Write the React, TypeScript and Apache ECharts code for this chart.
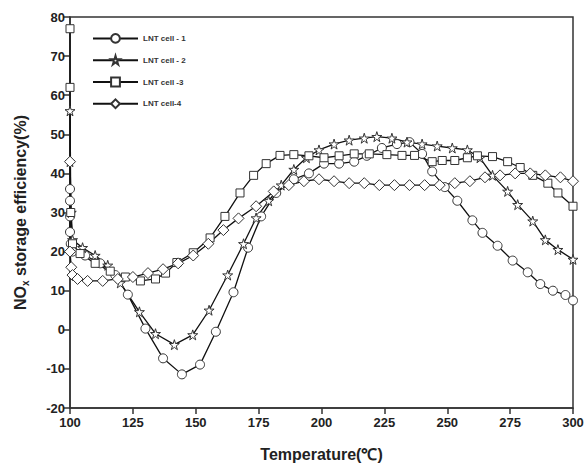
import React, { useEffect, useRef } from "react";
import * as echarts from "echarts";

const seriesNames = ["LNT cell - 1", "LNT cell - 2", "LNT cell -3", "LNT cell-4"];

const cell1T = [100, 100, 100, 100, 100.3, 101, 106, 112, 118, 123, 130, 137, 144.5, 151.7, 158, 165, 170.8, 176, 182, 189, 195, 201, 207, 213, 218, 224, 230, 235, 240, 244, 249, 254, 260, 264, 270, 276, 282, 287, 292, 297, 300];
const cell1V = [36, 33, 29, 25, 22, 20, 19, 17, 14, 9, 0.3, -7.3, -11.4, -8.9, -0.5, 9.6, 21, 29, 35, 38.5, 40, 42.5, 42.5, 43, 44.5, 46.5, 47.5, 48, 45, 40.5, 36.5, 33, 28, 24.8, 21.5, 17.7, 14.7, 11.7, 10, 8.9, 7.5];

const cell2T = [100, 100, 100.5, 101, 105, 110, 115, 120, 127.6, 134, 141.5, 148.8, 155.3, 162.7, 169, 174, 179, 184, 189, 194, 199, 205, 211, 217, 222, 228, 234, 240, 246, 252, 258, 263, 268, 274, 278, 284, 289, 294, 300];
const cell2V = [56, 43, 30, 23, 21, 19, 16.5, 12, 4.6, -1, -3.8, -1.3, 5, 14, 22, 28.6, 33, 37, 41, 44, 46, 47.5, 48.5, 49, 49.4, 49, 48, 47.5, 47, 46.5, 46, 44, 39.5, 35.4, 32, 27.8, 23, 20.5, 18];

const cell3T = [100, 100, 100.3, 101, 104, 110, 116, 122, 128, 134, 138, 142.5, 149, 155.7, 161.6, 167.6, 173, 178, 183.5, 189, 195, 201, 207, 213, 219, 226, 232, 237, 244, 248, 253, 258, 262, 268, 274, 279, 284, 290, 294, 300];
const cell3V = [77, 62, 30, 22, 19.5, 17, 15, 13.5, 12.5, 13, 14.5, 17.2, 19.7, 23.5, 29, 35, 39.5, 42.5, 44.6, 44.8, 44.5, 44, 44.5, 45, 45, 44.8, 44.6, 44.6, 43, 43.3, 43.3, 44, 44.5, 44.3, 43, 41.5, 39.5, 37.5, 35, 31.6];

const cell4T = [100, 100, 100.5, 101, 103, 107, 113, 119, 125, 131, 137, 143, 149, 155, 161, 167, 174, 181, 187, 193, 199, 205, 211, 217, 223, 229, 235, 241, 247, 253, 259, 265, 271, 277, 283, 289, 295, 300];
const cell4V = [43, 20, 16, 14, 13, 12.5, 12.5, 13, 13.5, 14.5, 15.5, 17, 19, 22, 25.5, 28.5, 31.6, 35.4, 37, 38, 38.5, 38, 37.5, 37.5, 37, 37, 37, 37, 37, 37.5, 38, 39, 39.5, 40, 40, 39.5, 39, 38];

const STAR = "path://M50,0 L61,35 L98,35 L68,57 L79,91 L50,70 L21,91 L32,57 L2,35 L39,35 Z";
const symbols = ["circle", STAR, "rect", "diamond"];
const symbolSizes = [9, 10, 8, 11];

const FONT = 'Arial, "Liberation Sans", sans-serif';

function zip(t: number[], v: number[]) {
  return t.map((x, i) => [x, v[i]]);
}

export default function App() {
  const ref = useRef<HTMLDivElement>(null);
  useEffect(() => {
    document.body.style.margin = "0";
    const chart = echarts.init(ref.current!, null, { renderer: "svg" });
    const data = [zip(cell1T, cell1V), zip(cell2T, cell2V), zip(cell3T, cell3V), zip(cell4T, cell4V)];
    chart.setOption({
      animation: false,
      backgroundColor: "#fff",
      grid: {
        left: 70, right: 15, top: 17, bottom: 55,
        show: true, borderColor: "#333", borderWidth: 1.5, backgroundColor: "transparent",
      },
      legend: {
        orient: "vertical",
        left: 87,
        top: 28,
        itemWidth: 45,
        itemHeight: 11,
        itemGap: 11,
        textStyle: { fontFamily: FONT, fontSize: 8, fontWeight: "bold", color: "#333" },
        data: seriesNames,
      },
      xAxis: {
        type: "value",
        min: 100, max: 300, interval: 25,
        name: "Temperature(℃)",
        nameLocation: "middle",
        nameGap: 38,
        nameTextStyle: { fontFamily: FONT, fontSize: 16, fontWeight: "bold", color: "#222" },
        axisLine: { show: true, onZero: false, lineStyle: { color: "#333", width: 1.5 } },
        axisTick: { show: true, length: 6, lineStyle: { color: "#333", width: 1.5 } },
        axisLabel: { fontFamily: FONT, fontSize: 13, fontWeight: "bold", color: "#222", margin: 8 },
        splitLine: { show: false },
      },
      yAxis: {
        type: "value",
        min: -20, max: 80, interval: 10,
        name: "{a|NO}{b|x}{a| storage efficiency(%)}",
        nameLocation: "middle",
        nameGap: 40,
        nameRotate: 90,
        nameTextStyle: {
          fontFamily: FONT, fontSize: 16, fontWeight: "bold", color: "#222",
          rich: {
            a: { fontFamily: FONT, fontSize: 16, fontWeight: "bold", color: "#222" },
            b: { fontFamily: FONT, fontSize: 10, fontWeight: "bold", color: "#222", padding: [10, 0, 0, 0] },
          },
        },
        axisLine: { show: true, onZero: false, lineStyle: { color: "#333", width: 1.5 } },
        axisTick: { show: true, length: 7, lineStyle: { color: "#333", width: 1.5 } },
        axisLabel: { fontFamily: FONT, fontSize: 13, fontWeight: "bold", color: "#222", margin: 5 },
        splitLine: { show: false },
      },
      series: seriesNames.map((name, i) => ({
        name,
        type: "line",
        data: data[i],
        symbol: symbols[i],
        symbolSize: symbolSizes[i],
        showAllSymbol: true,
        lineStyle: { color: "#111", width: 1.3 },
        itemStyle: { color: "#fff", borderColor: "#333", borderWidth: 1 },
      })),
    });
    return () => chart.dispose();
  }, []);
  return <div ref={ref} style={{ width: 588, height: 467 }} />;
}
